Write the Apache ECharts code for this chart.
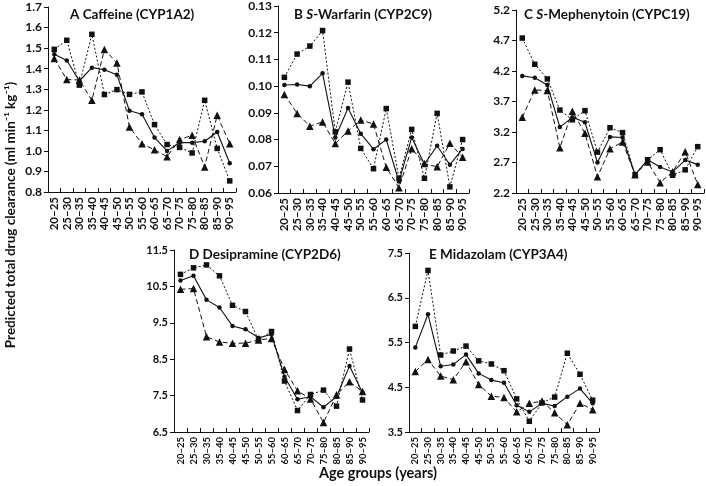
<!DOCTYPE html>
<html>
<head>
<meta charset="utf-8">
<script src="https://cdn.jsdelivr.net/npm/echarts@6/dist/echarts.min.js"></script>
<style>
html,body{margin:0;padding:0;background:#fff;}
#c{width:706px;height:486px;}
</style>
</head>
<body>
<div id="c"></div>
<script>
const ageGroups = ['20–25','25–30','30–35','35–40','40–45','45–50','50–55','55–60','60–65','65–70','70–75','75–80','80–85','85–90','90–95'];

// A Caffeine (CYP1A2)
const caffeineCircle   = [1.47, 1.44, 1.34, 1.405, 1.395, 1.37, 1.195, 1.178, 1.065, 1.0, 1.04, 1.04, 1.047, 1.092, 0.94];
const caffeineSquare   = [1.494, 1.538, 1.32, 1.567, 1.274, 1.298, 1.275, 1.287, 1.128, 1.031, 1.017, 0.99, 1.246, 1.012, 0.854];
const caffeineTriangle = [1.449, 1.347, 1.345, 1.246, 1.493, 1.428, 1.116, 1.035, 1.005, 0.972, 1.055, 1.076, 0.922, 1.173, 1.035];

// B S-Warfarin (CYP2C9)
const warfarinCircle   = [0.1004, 0.1006, 0.1000, 0.1048, 0.0808, 0.0918, 0.0822, 0.0764, 0.0800, 0.0643, 0.0808, 0.0708, 0.0777, 0.0706, 0.0765];
const warfarinSquare   = [0.1033, 0.1120, 0.1150, 0.1208, 0.0829, 0.1015, 0.0767, 0.0691, 0.0916, 0.0655, 0.0838, 0.0655, 0.0898, 0.0623, 0.0800];
const warfarinTriangle = [0.0969, 0.0898, 0.0850, 0.0866, 0.0785, 0.0832, 0.0873, 0.0858, 0.0696, 0.0620, 0.0766, 0.0710, 0.0698, 0.0786, 0.0734];

// C S-Mephenytoin (CYPC19)
const mephenytoinCircle   = [4.12, 4.09, 3.97, 3.28, 3.44, 3.36, 2.70, 3.12, 3.11, 2.50, 2.745, 2.625, 2.545, 2.74, 2.665];
const mephenytoinSquare   = [4.74, 4.31, 4.07, 3.56, 3.40, 3.55, 2.87, 3.27, 3.19, 2.50, 2.745, 2.91, 2.49, 2.58, 2.96];
const mephenytoinTriangle = [3.44, 3.89, 3.88, 2.94, 3.54, 3.18, 2.465, 2.925, 3.035, 2.50, 2.71, 2.37, 2.55, 2.875, 2.34];

// D Desipramine (CYP2D6)
const desipramineCircle   = [10.66, 10.79, 10.13, 9.92, 9.41, 9.32, 9.09, 9.18, 8.02, 7.40, 7.47, 7.18, 7.47, 8.31, 7.58];
const desipramineSquare   = [10.83, 11.01, 11.09, 10.79, 9.98, 9.81, 9.03, 9.26, 7.90, 7.09, 7.53, 7.65, 7.21, 8.78, 7.38];
const desipramineTriangle = [10.42, 10.44, 9.12, 8.97, 8.94, 8.94, 9.03, 9.07, 8.22, 7.63, 7.41, 6.76, 7.52, 7.88, 7.61];

// E Midazolam (CYP3A4)
const midazolamCircle   = [5.39, 6.13, 4.97, 5.01, 5.23, 4.81, 4.66, 4.60, 4.10, 3.95, 4.14, 4.08, 4.29, 4.47, 4.14];
const midazolamSquare   = [5.86, 7.11, 5.22, 5.31, 5.42, 5.09, 5.02, 4.87, 4.24, 3.74, 4.15, 4.28, 5.26, 4.79, 4.21];
const midazolamTriangle = [4.85, 5.12, 4.75, 4.67, 5.07, 4.56, 4.30, 4.27, 3.95, 4.14, 4.19, 3.93, 3.66, 4.14, 4.00];

// axis ranges / tick settings
const yRanges = [
  {min: 0.8,  max: 1.7,  interval: 0.1,  dec: 1},
  {min: 0.06, max: 0.13, interval: 0.01, dec: 2},
  {min: 2.2,  max: 5.2,  interval: 0.5,  dec: 1},
  {min: 6.5,  max: 11.5, interval: 1,    dec: 1},
  {min: 3.5,  max: 7.5,  interval: 1,    dec: 1}
];
const panelData = [
  [caffeineCircle, caffeineSquare, caffeineTriangle],
  [warfarinCircle, warfarinSquare, warfarinTriangle],
  [mephenytoinCircle, mephenytoinSquare, mephenytoinTriangle],
  [desipramineCircle, desipramineSquare, desipramineTriangle],
  [midazolamCircle, midazolamSquare, midazolamTriangle]
];

const FONT = 'Lato, "DejaVu Sans", sans-serif';
const INK = '#111';

const grids = [
  {left: 48,  top: 7,   width: 188, height: 185},
  {left: 278, top: 6,   width: 191, height: 187},
  {left: 516, top: 10,  width: 188, height: 183},
  {left: 174, top: 250, width: 195, height: 182},
  {left: 409, top: 253, width: 190, height: 179}
];
const xLabelSize = [11.5, 11.5, 11.5, 9.5, 9.5];
const yLabelSize = [12, 12, 12, 11, 11];

const xAxes = grids.map((g, i) => ({
  type: 'category', gridIndex: i, data: ageGroups, boundaryGap: true,
  axisLine: {lineStyle: {color: INK, width: 1}},
  axisTick: {show: true, inside: true, length: 4, lineStyle: {color: INK}},
  axisLabel: {rotate: 90, interval: 0, margin: 5, fontFamily: FONT, fontWeight: 'bold', fontSize: xLabelSize[i], color: INK},
  splitLine: {show: false}
}));

const yAxes = grids.map((g, i) => ({
  type: 'value', gridIndex: i,
  min: yRanges[i].min, max: yRanges[i].max, interval: yRanges[i].interval,
  axisLine: {show: true, lineStyle: {color: INK, width: 1}},
  axisTick: {show: true, length: 4, lineStyle: {color: INK}},
  axisLabel: {margin: 6, fontFamily: FONT, fontWeight: 'bold', fontSize: yLabelSize[i], color: INK,
    formatter: v => Number(v).toFixed(yRanges[i].dec)},
  splitLine: {show: false}
}));

const styles = [
  {symbol: 'circle',   symbolSize: 4.5, lineStyle: {type: 'solid', width: 1.1}},
  {symbol: 'rect',     symbolSize: 5.5, lineStyle: {type: [2, 2], width: 1}},
  {symbol: 'triangle', symbolSize: 7.5, lineStyle: {type: [5, 3], width: 1}}
];

const series = [];
panelData.forEach((arrs, p) => {
  arrs.forEach((arr, k) => {
    series.push({
      type: 'line', xAxisIndex: p, yAxisIndex: p, data: arr,
      symbol: styles[k].symbol, symbolSize: styles[k].symbolSize,
      showSymbol: true, animation: false,
      itemStyle: {color: INK, borderWidth: 0},
      lineStyle: Object.assign({color: INK}, styles[k].lineStyle),
      z: 2 + k
    });
  });
});

const rich = {
  n: {fontFamily: FONT, fontWeight: 'bold', fontSize: 13.5, color: INK},
  i: {fontFamily: FONT, fontWeight: 'bold', fontStyle: 'italic', fontSize: 13.5, color: INK}
};
const titles = [
  {text: '{n|A Caffeine (CYP1A2)}', left: 70, top: 8},
  {text: '{n|B }{i|S}{n|-Warfarin (CYP2C9)}', left: 294, top: 8},
  {text: '{n|C }{i|S}{n|-Mephenytoin (CYPC19)}', left: 524, top: 8},
  {text: '{n|D Desipramine (CYP2D6)}', left: 189, top: 248},
  {text: '{n|E Midazolam (CYP3A4)}', left: 429, top: 248}
].map(t => Object.assign({textStyle: {rich: rich}, padding: 0}, t));

const chart = echarts.init(document.getElementById('c'), null, {renderer: 'canvas'});
chart.setOption({
  backgroundColor: '#fff',
  animation: false,
  title: titles,
  grid: grids,
  xAxis: xAxes,
  yAxis: yAxes,
  series: series,
  graphic: [
    {type: 'text', x: 11, y: 215, rotation: Math.PI / 2,
     style: {text: 'Predicted total drug clearance (ml min⁻¹ kg⁻¹)', fontFamily: FONT, fontWeight: 'bold', fontSize: 13.5,
             fill: INK, align: 'center', verticalAlign: 'middle'}},
    {type: 'text', x: 378, y: 473,
     style: {text: 'Age groups (years)', fontFamily: FONT, fontWeight: 'bold', fontSize: 14.5,
             fill: INK, align: 'center', verticalAlign: 'middle'}}
  ]
});
</script>
</body>
</html>
